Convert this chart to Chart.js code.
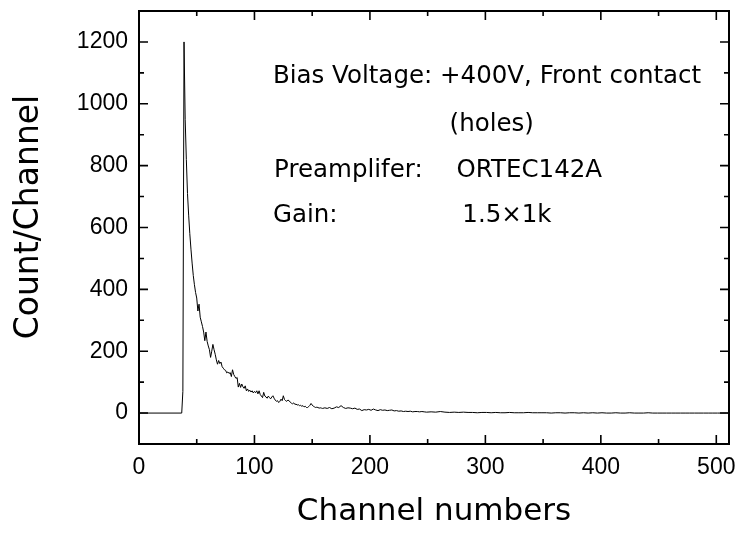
<!DOCTYPE html>
<html>
<head>
<meta charset="utf-8">
<script src="https://cdn.jsdelivr.net/npm/chart.js@4.4.1/dist/chart.umd.min.js"></script>
<style>
  html, body { margin: 0; padding: 0; background: #fff; }
  #wrap { width: 740px; height: 537px; }
</style>
</head>
<body>
<div id="wrap"><canvas id="chart_spectrum"></canvas></div>
<script>
// pulse height spectrum
var channels = [
  0, 37, 38, 39,
  40, 41, 42, 43, 44, 45, 46, 47, 48, 49,
  50, 51, 52, 53, 54, 55, 56, 57, 58, 59,
  60, 61, 62, 63, 64, 65, 66, 67, 68, 69,
  70, 71, 72, 73, 74, 75, 76, 77, 78, 79,
  80, 81, 82, 83, 84, 85, 86, 87, 88, 89,
  90, 91, 92, 93, 94, 95, 96, 97, 98, 99,
  100, 101, 102, 103, 104, 105, 106, 107, 108, 109,
  110, 111, 112, 113, 114, 115, 116, 117, 118, 119,
  120, 121, 122, 123, 124, 125, 126, 127, 128, 129,
  130, 131, 132, 133, 134, 135, 136, 137, 138, 139,
  140, 141, 142, 143, 144, 145, 146, 147, 148, 149,
  150, 151, 152, 153, 154, 155, 156, 157, 158, 159,
  161, 163, 165, 167, 169, 171, 173, 175, 177, 179,
  181, 183, 185, 187, 189, 191, 193, 195, 197, 199,
  201, 203, 205, 207, 209, 211, 213, 215, 217, 219,
  221, 223, 225, 227, 229, 231, 233, 235, 237, 239,
  241, 243, 245, 247, 249,
  253, 257, 261, 265, 269, 273, 277, 281, 285, 289,
  293, 297, 301, 305, 309, 313, 317, 321, 325, 329,
  333, 337, 341, 345, 349, 353, 357, 361, 365, 369,
  373, 377, 381, 385, 389, 393, 397, 401, 405, 409,
  413, 417, 421, 425, 429, 433, 437, 441, 445, 449,
  453, 457, 461, 465, 469, 473, 477, 481, 485, 489,
  493, 497, 501, 505, 509, 511
];
var counts = [
  0, 0, 70, 1200,
  950, 820, 710, 640, 580, 530, 485, 445, 415, 390,
  372, 330, 352, 310, 295, 280, 262, 234, 262, 232,
  217, 205, 180, 200, 222, 205, 190, 172, 158, 170,
  160, 165, 150, 145, 140, 138, 130, 133, 128, 131,
  118, 140, 125, 118, 112, 115, 84, 96, 83, 94,
  85, 80, 88, 72, 78, 70, 74, 68, 72, 65,
  70, 66, 72, 62, 72, 60, 55, 50, 67, 55,
  52, 48, 55, 50, 46, 52, 56, 48, 42, 38,
  40, 34, 38, 45, 40, 56, 44, 40, 38, 42,
  40, 35, 32, 30, 33, 28, 29, 26, 27, 24,
  25, 22, 24, 20, 22, 18, 18, 21, 25, 31,
  26, 22, 20, 18, 19, 18, 16, 17, 16, 15,
  17, 15, 18, 14, 16, 20, 18, 24, 18, 15,
  17, 16, 14, 16, 12, 13, 8, 11, 10, 12,
  9, 13, 10, 8, 11, 9, 10, 8, 9, 10,
  7, 8, 6, 7, 5, 6, 5, 6, 4, 5,
  5, 4, 5, 4, 3,
  4, 3, 5, 3, 2, 3, 2, 3, 2, 2,
  1, 2, 2, 1, 2, 1, 1, 2, 1, 1,
  1, 2, 1, 1, 1, 1, 0, 1, 1, 0,
  1, 1, 0, 1, 0, 1, 0, 1, 0, 0,
  1, 0, 0, 1, 0, 0, 0, 1, 0, 0,
  0, 0, 0, 0, 0, 0, 0, 0, 0, 0,
  0, 0, 0, 0, 0, 0
];

var xTickValues = [0, 100, 200, 300, 400, 500];
var xMinorValues = [50, 150, 250, 350, 450];
var yTickValues = [0, 200, 400, 600, 800, 1000, 1200];
var yMinorValues = [100, 300, 500, 700, 900, 1100];

var noteLines = [
  'Bias Voltage: +400V, Front contact',
  '(holes)',
  'Preamplifer:',
  'ORTEC142A',
  'Gain:',
  '1.5\u00d71k'
];

var points = channels.map(function(c, i) { return { x: c, y: counts[i] }; });

var frameAndTicks = {
  id: 'frameAndTicks',
  afterDatasetsDraw: function(chart) {
    var ctx = chart.ctx, a = chart.chartArea;
    var x = chart.scales.x, y = chart.scales.y;
    ctx.save();
    ctx.strokeStyle = '#000';
    ctx.lineWidth = 2;
    ctx.strokeRect(a.left, a.top, a.right - a.left, a.bottom - a.top);
    ctx.lineWidth = 1.6;
    ctx.beginPath();
    function xTick(v, len) {
      var px = x.getPixelForValue(v);
      ctx.moveTo(px, a.bottom); ctx.lineTo(px, a.bottom - len);
      ctx.moveTo(px, a.top); ctx.lineTo(px, a.top + len);
    }
    function yTick(v, len) {
      var py = y.getPixelForValue(v);
      ctx.moveTo(a.left, py); ctx.lineTo(a.left + len, py);
      ctx.moveTo(a.right, py); ctx.lineTo(a.right - len, py);
    }
    xTickValues.forEach(function(v) { xTick(v, 9); });
    xMinorValues.forEach(function(v) { xTick(v, 5); });
    yTickValues.forEach(function(v) { yTick(v, 9); });
    yMinorValues.forEach(function(v) { yTick(v, 5); });
    ctx.stroke();

    // text block in the upper right
    ctx.fillStyle = '#000';
    ctx.font = '24.5px "DejaVu Sans"';
    ctx.textAlign = 'left';
    ctx.textBaseline = 'alphabetic';
    var X = function(v) { return x.getPixelForValue(v); };
    var Y = function(v) { return y.getPixelForValue(v); };
    ctx.fillText(noteLines[0], X(116), Y(1066));
    ctx.fillText(noteLines[1], X(269), Y(911));
    ctx.fillText(noteLines[2], X(117), Y(762));
    ctx.fillText(noteLines[3], X(275), Y(762));
    ctx.fillText(noteLines[4], X(116), Y(617));
    ctx.fillText(noteLines[5], X(280), Y(617));
    ctx.restore();
  }
};

function plainLabel(value) { return String(value); }

var chart_spectrum = new Chart(document.getElementById('chart_spectrum'), {
    type: 'line',
    data: {
        datasets: [
            {
                label: 'spectrum',
                data: points,
                borderColor: '#000',
                borderWidth: 1,
                pointRadius: 0,
                tension: 0,
                fill: false
            }
        ]
    },
    options: {
        animation: false,
        responsive: true,
        maintainAspectRatio: false,
        layout: {
            padding: { left: 0, top: 11, right: 11, bottom: 0 }
        },
        plugins: {
            legend: { display: false },
            tooltip: { enabled: false }
        },
        scales: {
            x: {
                type: 'linear',
                min: 0,
                max: 511,
                grid: { display: false, drawTicks: false },
                border: { display: false },
                afterBuildTicks: function(scale) {
                    scale.ticks = xTickValues.map(function(v) { return { value: v }; });
                },
                afterFit: function(scale) {
                    scale.height = 93;
                    scale.paddingLeft = 0;
                    scale.paddingRight = 0;
                },
                ticks: {
                    color: '#000',
                    padding: 10,
                    maxRotation: 0,
                    callback: plainLabel,
                    font: { family: '"Liberation Sans"', size: 23 }
                },
                title: {
                    display: true,
                    text: 'Channel numbers',
                    color: '#000',
                    font: { family: '"DejaVu Sans"', size: 31, lineHeight: 1.2 },
                    padding: { top: 0, bottom: 6 }
                }
            },
            y: {
                type: 'linear',
                min: -100,
                max: 1300,
                grid: { display: false, drawTicks: false },
                border: { display: false },
                afterBuildTicks: function(scale) {
                    scale.ticks = yTickValues.map(function(v) { return { value: v }; });
                },
                afterFit: function(scale) {
                    scale.width = 139;
                    scale.paddingTop = 0;
                    scale.paddingBottom = 0;
                },
                ticks: {
                    color: '#000',
                    padding: 11,
                    callback: plainLabel,
                    font: { family: '"Liberation Sans"', size: 23 }
                },
                title: {
                    display: true,
                    text: '  Count/Channel',
                    color: '#000',
                    font: { family: '"DejaVu Sans"', size: 33, lineHeight: 1.1 },
                    padding: { top: 11, bottom: 0 }
                }
            }
        }
    },
    plugins: [frameAndTicks]
});
</script>
</body>
</html>
